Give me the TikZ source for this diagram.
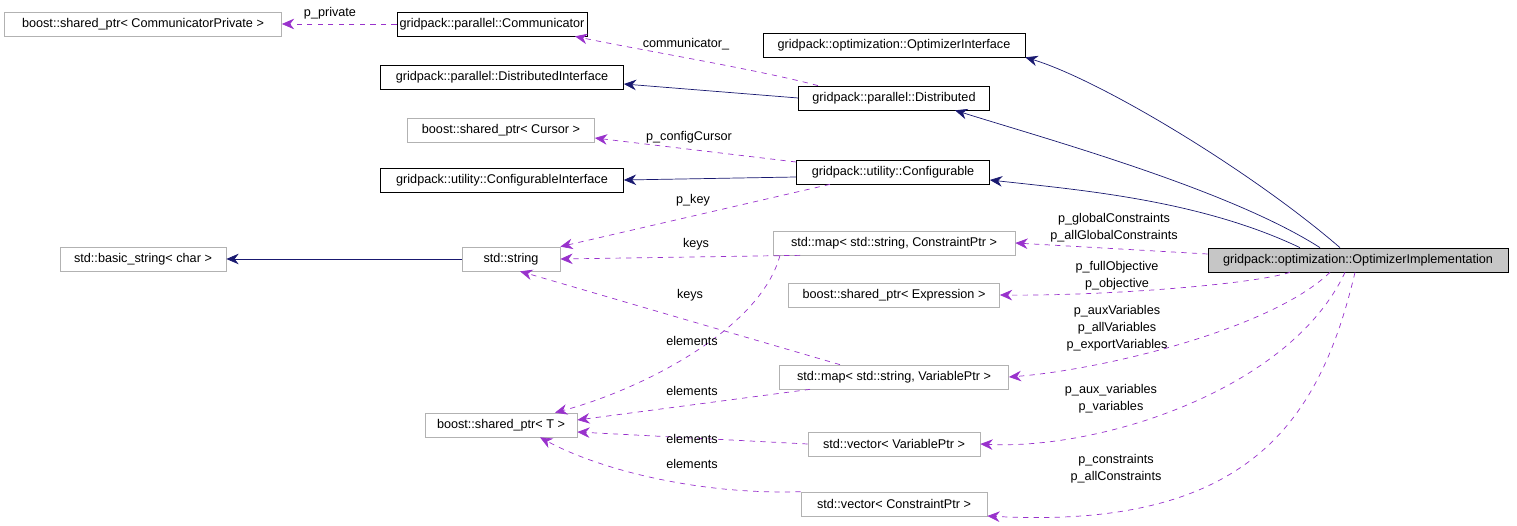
\documentclass[tikz,border=0pt]{standalone}
\usepackage{fontspec}
\setmainfont{Liberation Sans}
\usetikzlibrary{arrows.meta}
\definecolor{inhblue}{RGB}{25,25,112}
\definecolor{usepurple}{RGB}{153,50,204}
\tikzset{
  cls/.style={draw=black, fill=white, inner sep=0pt, minimum height=0.48cm, font=\fontsize{7.2}{8.6}\selectfont},
  ext/.style={cls, draw=gray!60},
  w/.style={minimum width={#1*0.02cm}},
  inh/.style={draw=inhblue, -{Stealth[length=7pt,width=6pt]}},
  use/.style={draw=usepurple, dashed, -{Stealth[length=7pt,width=6pt]}},
  lbl/.style={font=\fontsize{7.2}{8.6}\selectfont, align=center, inner sep=0pt}
}
\begin{document}
\begin{tikzpicture}[x=0.02cm, y=-0.02cm]
    \useasboundingbox (0,0) rectangle (1517,526);
    % classes
    \node[ext, w=277] (commpriv) at (143,24) {boost::shared\_ptr< CommunicatorPrivate >};
    \node[cls, w=190] (comm) at (492,24) {gridpack::parallel::Communicator};
    \node[cls, w=262] (optif) at (894,45) {gridpack::optimization::OptimizerInterface};
    \node[cls, w=243] (distif) at (502,77) {gridpack::parallel::DistributedInterface};
    \node[cls, w=191] (dist) at (894,98) {gridpack::parallel::Distributed};
    \node[ext, w=187] (cursor) at (501,130) {boost::shared\_ptr< Cursor >};
    \node[cls, w=243] (confif) at (502,180) {gridpack::utility::ConfigurableInterface};
    \node[cls, w=193] (conf) at (893,172) {gridpack::utility::Configurable};
    \node[ext, w=166] (basic) at (143,259) {std::basic\_string< char >};
    \node[ext, w=98] (str) at (511,259) {std::string};
    \node[ext, w=242] (cmap) at (894,243) {std::map< std::string, ConstraintPtr >};
    \node[cls, fill=gray!45, w=300] (impl) at (1358,260) {gridpack::optimization::OptimizerImplementation};
    \node[ext, w=211] (expr) at (894,295) {boost::shared\_ptr< Expression >};
    \node[ext, w=229] (vmap) at (894,377) {std::map< std::string, VariablePtr >};
    \node[ext, w=152] (sptr) at (501,425) {boost::shared\_ptr< T >};
    \node[ext, w=172] (vvec) at (894,444) {std::vector< VariablePtr >};
    \node[ext, w=186] (cvec) at (894,504) {std::vector< ConstraintPtr >};

    % inheritance
    \draw[inh] (dist.west) -- (distif.east |- 0,84);
    \draw[inh] (conf.west |- 0,177) -- (confif.east);
    \draw[inh] (str.west) -- (basic.east);
    \draw[inh] (impl.north -| 1340,0) .. controls (1250,170) and (1100,80) .. (optif.south east);
    \draw[inh] (impl.north -| 1320,0) .. controls (1230,190) and (1050,140) .. (dist.south -| 955,0);
    \draw[inh] (impl.north -| 1300,0) .. controls (1200,200) and (1080,190) .. (conf.east |- 0,180);

    % members
    \draw[use] (comm.west) -- (commpriv.east);
    \draw[use] (dist.north -| 818,0) .. controls (760,70) and (640,50) .. (comm.south -| 575,0);
    \draw[use] (conf.west |- 0,162) -- (cursor.east |- 0,138);
    \draw[use] (conf.south -| 830,0) -- (str.north east);
    \draw[use] (impl.west |- 0,254) -- (cmap.east);
    \draw[use] (cmap.south -| 800,0) -- (str.east);
    \draw[use] (cmap.south -| 780,0) .. controls (760,330) and (640,390) .. (sptr.north -| 555,0);
    \draw[use] (impl.south -| 1290,0) .. controls (1250,285) and (1100,296) .. (expr.east);
    \draw[use] (impl.south -| 1330,0) .. controls (1270,330) and (1100,370) .. (vmap.east);
    \draw[use] (vmap.north -| 840,0) -- (str.south -| 520,0);
    \draw[use] (vmap.south -| 810,0) -- (sptr.east |- 0,420);
    \draw[use] (impl.south -| 1345,0) .. controls (1290,390) and (1100,450) .. (vvec.east);
    \draw[use] (vvec.west) -- (sptr.east |- 0,432);
    \draw[use] (impl.south -| 1355,0) .. controls (1320,420) and (1250,530) .. (cvec.east |- 0,516);
    \draw[use] (cvec.north west) .. controls (700,495) and (600,470) .. (sptr.south -| 540,0);

    % labels
    \node[lbl] (lpriv) at (330,13) {p\_private};
    \node[lbl] (lcomm) at (686,44) {communicator\_};
    \node[lbl] (lcur) at (689,137) {p\_configCursor};
    \node[lbl] (lkey) at (693,200) {p\_key};
    \node[lbl] (lkeys1) at (696,244) {keys};
    \node[lbl] (lkeys2) at (690,295) {keys};
    \node[lbl] (lgc) at (1114,228) {p\_globalConstraints\\[1pt]p\_allGlobalConstraints};
    \node[lbl] (lobj) at (1117,276) {p\_fullObjective\\[1pt]p\_objective};
    \node[lbl] (lvar) at (1117,328) {p\_auxVariables\\[1pt]p\_allVariables\\[1pt]p\_exportVariables};
    \node[lbl] (lvv) at (1111,399) {p\_aux\_variables\\[1pt]p\_variables};
    \node[lbl] (lcv) at (1116,469) {p\_constraints\\[1pt]p\_allConstraints};
    \node[lbl] (lel1) at (692,341) {elements};
    \node[lbl] (lel2) at (692,391) {elements};
    \node[lbl] (lel3) at (692,439) {elements};
    \node[lbl] (lel4) at (692,464) {elements};
\end{tikzpicture}
\end{document}
